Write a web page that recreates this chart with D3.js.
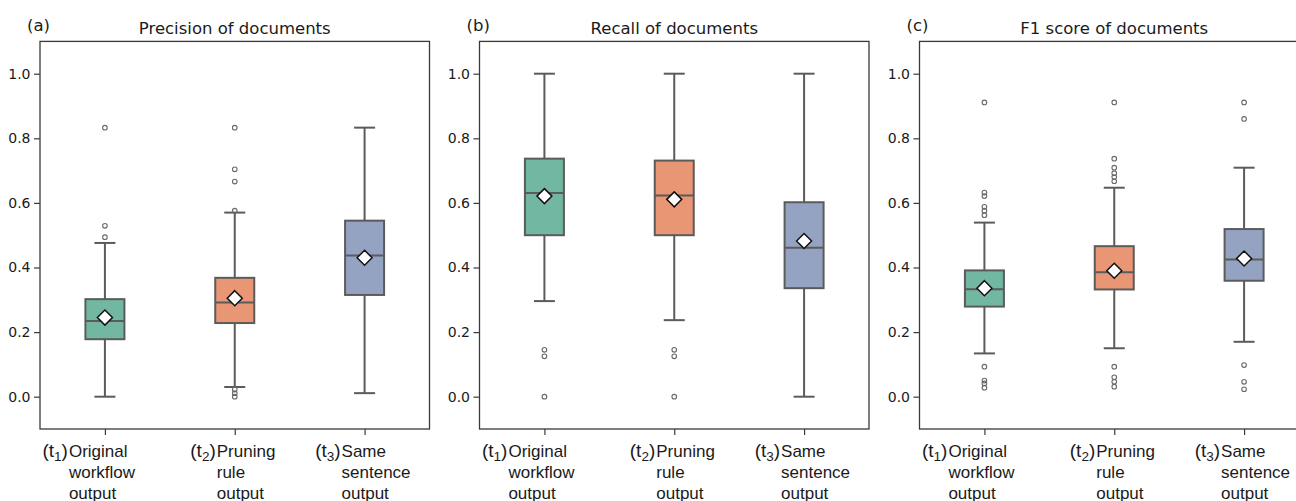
<!DOCTYPE html>
<html>
<head>
<meta charset="utf-8">
<script src="https://cdn.jsdelivr.net/npm/d3@7"></script>
<style>
  html, body { margin: 0; padding: 0; background: #fff; }
  svg { display: block; }
</style>
</head>
<body>
<svg id="chart" width="1296" height="501"></svg>
<script>
// ---------------- DATA ----------------
const categories = ["t1", "t2", "t3"];
const categorySubscripts = ["1", "2", "3"];
const categoryLines = [
  ["Original", "workflow", "output"],
  ["Pruning", "rule", "output"],
  ["Same", "sentence", "output"]
];
const yTicks = [0.0, 0.2, 0.4, 0.6, 0.8, 1.0];
const panelLetters = ["(a)", "(b)", "(c)"];
const panelTitles = ["Precision of documents", "Recall of documents", "F1 score of documents"];

// Precision
const precisionLow    = [0.000, 0.030, 0.011];
const precisionQ1     = [0.178, 0.228, 0.315];
const precisionMedian = [0.234, 0.292, 0.437];
const precisionQ3     = [0.302, 0.368, 0.545];
const precisionHigh   = [0.476, 0.570, 0.833];
const precisionMean   = [0.245, 0.305, 0.430];
const precisionOutliers = [
  [0.833, 0.529, 0.494],
  [0.833, 0.704, 0.666, 0.576, 0.022, 0.011, 0.000],
  []
];

// Recall
const recallLow    = [0.296, 0.237, 0.000];
const recallQ1     = [0.500, 0.500, 0.336];
const recallMedian = [0.631, 0.623, 0.461];
const recallQ3     = [0.737, 0.731, 0.602];
const recallHigh   = [1.000, 1.000, 1.000];
const recallMean   = [0.621, 0.611, 0.482];
const recallOutliers = [
  [0.145, 0.125, 0.000],
  [0.145, 0.125, 0.000],
  []
];

// F1 score
const f1Low    = [0.134, 0.150, 0.170];
const f1Q1     = [0.279, 0.332, 0.359];
const f1Median = [0.333, 0.385, 0.425];
const f1Q3     = [0.391, 0.466, 0.519];
const f1High   = [0.539, 0.647, 0.709];
const f1Mean   = [0.336, 0.390, 0.428];
const f1Outliers = [
  [0.911, 0.632, 0.621, 0.588, 0.576, 0.562, 0.093, 0.050, 0.041, 0.028],
  [0.911, 0.737, 0.709, 0.692, 0.680, 0.667, 0.093, 0.060, 0.046, 0.031],
  [0.911, 0.860, 0.098, 0.046, 0.023]
];

// ---------------- STYLE ----------------
const boxColors = ["#72b7a1", "#e99675", "#95a3c3"];
const lineGray = "#5b5b5b";
const frameColor = "#3a3a3a";

const panelsData = [
  {low: precisionLow, q1: precisionQ1, med: precisionMedian, q3: precisionQ3, high: precisionHigh, mean: precisionMean, out: precisionOutliers},
  {low: recallLow, q1: recallQ1, med: recallMedian, q3: recallQ3, high: recallHigh, mean: recallMean, out: recallOutliers},
  {low: f1Low, q1: f1Q1, med: f1Median, q3: f1Q3, high: f1High, mean: f1Mean, out: f1Outliers}
];

// layout
const panelLeft = [40, 479.5, 919.5];
const panelWidth = 389.5;
const plotTop = 41.4, plotBottom = 429;
const boxWidth = 39, capWidth = 21;
// horizontal shift of the label text block relative to the tick
const labelBlockShift = [-36, -18, -23];

const svg = d3.select("#chart");

const y = d3.scaleLinear().domain([-0.1, 1.1]).range([plotBottom, plotTop]);

panelsData.forEach((pd, pi) => {
  const x0 = panelLeft[pi];
  const x = d3.scalePoint().domain(categories).range([x0, x0 + panelWidth]).padding(0.5);
  const g = svg.append("g");

  // Y axis
  const yAxis = d3.axisLeft(y).tickValues(yTicks).tickFormat(d3.format(".1f")).tickSize(6).tickPadding(3.5);
  const ya = g.append("g").attr("transform", `translate(${x0},0)`).call(yAxis);
  ya.select(".domain").remove();
  ya.selectAll(".tick line").attr("stroke", frameColor).attr("stroke-width", 1.2);
  ya.selectAll(".tick text").attr("font-family", "DejaVu Sans").attr("font-size", 14).attr("fill", "#1a1a1a");

  // X axis ticks
  const xAxis = d3.axisBottom(x).tickSize(6).tickFormat("");
  const xa = g.append("g").attr("transform", `translate(0,${plotBottom})`).call(xAxis);
  xa.select(".domain").remove();
  xa.selectAll(".tick line").attr("stroke", frameColor).attr("stroke-width", 1.2);

  // Boxes
  categories.forEach((c, i) => {
    const cx = x(c);
    const col = lineGray;
    // whiskers
    g.append("line").attr("x1", cx).attr("x2", cx).attr("y1", y(pd.q3[i])).attr("y2", y(pd.high[i]))
      .attr("stroke", col).attr("stroke-width", 2);
    g.append("line").attr("x1", cx).attr("x2", cx).attr("y1", y(pd.q1[i])).attr("y2", y(pd.low[i]))
      .attr("stroke", col).attr("stroke-width", 2);
    // caps
    [pd.high[i], pd.low[i]].forEach(v => {
      g.append("line").attr("x1", cx - capWidth / 2).attr("x2", cx + capWidth / 2)
        .attr("y1", y(v)).attr("y2", y(v)).attr("stroke", col).attr("stroke-width", 2);
    });
    // box
    g.append("rect").attr("x", cx - boxWidth / 2).attr("width", boxWidth)
      .attr("y", y(pd.q3[i])).attr("height", y(pd.q1[i]) - y(pd.q3[i]))
      .attr("fill", boxColors[i]).attr("stroke", col).attr("stroke-width", 2);
    // median
    g.append("line").attr("x1", cx - boxWidth / 2).attr("x2", cx + boxWidth / 2)
      .attr("y1", y(pd.med[i])).attr("y2", y(pd.med[i])).attr("stroke", col).attr("stroke-width", 2);
    // outliers
    g.selectAll(null).data(pd.out[i]).enter().append("circle")
      .attr("cx", cx).attr("cy", d => y(d)).attr("r", 2.3)
      .attr("fill", "none").attr("stroke", "#6a6a6a").attr("stroke-width", 1.1);
    // mean diamond
    const my = y(pd.mean[i]);
    const s = 7.5;
    g.append("path")
      .attr("d", `M${cx},${my - s}L${cx + s},${my}L${cx},${my + s}L${cx - s},${my}Z`)
      .attr("fill", "#fff").attr("stroke", "#111").attr("stroke-width", 1.5);

    // x tick labels
    const bx = cx + labelBlockShift[i];
    const lineH = 21;
    const baseY = 457;
    const pre = g.append("text").attr("x", bx - 1).attr("y", baseY)
      .attr("text-anchor", "end").attr("font-family", "Liberation Sans, Arial, sans-serif")
      .attr("font-size", 19).attr("fill", "#1a1a1a");
    pre.append("tspan").text("(t");
    pre.append("tspan").attr("font-size", 13.5).attr("dy", 4).text(categorySubscripts[i]);
    pre.append("tspan").attr("dy", -4).text(")");
    categoryLines[i].forEach((ln, li) => {
      g.append("text").attr("x", bx).attr("y", baseY + li * lineH)
        .attr("font-family", "Liberation Sans, Arial, sans-serif")
        .attr("font-size", 17).attr("fill", "#1a1a1a").text(ln);
    });
  });

  // frame
  g.append("rect").attr("x", x0).attr("y", plotTop).attr("width", panelWidth).attr("height", plotBottom - plotTop)
    .attr("fill", "none").attr("stroke", frameColor).attr("stroke-width", 1.3);

  // title
  g.append("text").attr("x", x0 + panelWidth / 2).attr("y", 33.5).attr("text-anchor", "middle")
    .attr("font-family", "DejaVu Sans").attr("font-size", 16.5).attr("fill", "#1a1a1a").text(panelTitles[pi]);
  // letter
  g.append("text").attr("x", x0 - 13).attr("y", 30.5)
    .attr("font-family", "DejaVu Sans").attr("font-size", 16.5).attr("fill", "#1a1a1a").text(panelLetters[pi]);
});
</script>
</body>
</html>
